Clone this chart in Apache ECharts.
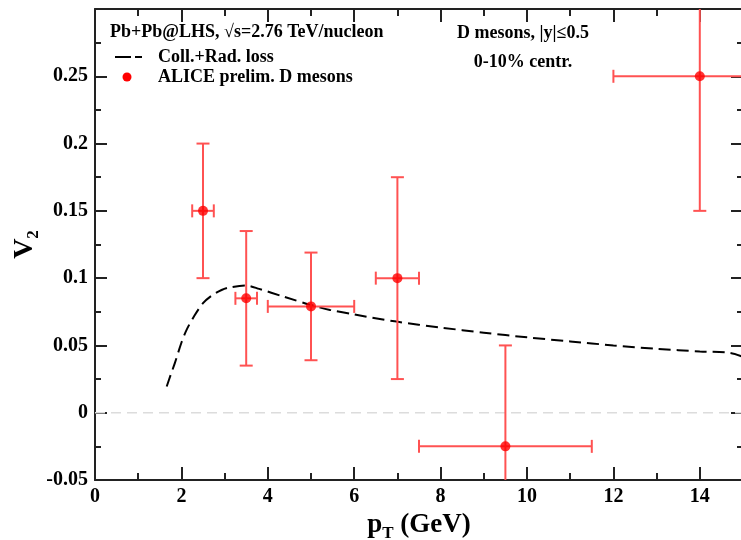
<!DOCTYPE html>
<html>
<head>
<meta charset="utf-8">
<script src="https://cdn.jsdelivr.net/npm/echarts@6/dist/echarts.min.js"></script>
<style>
html,body{margin:0;padding:0;background:#fff;}
#chart{width:741px;height:540px;}
</style>
</head>
<body>
<div id="chart"></div>
<script>
// Theory curve: Coll.+Rad. loss
const curveX = [1.66, 1.75, 1.85, 2.0, 2.12, 2.3, 2.5, 2.7, 2.93, 3.1, 3.5, 3.8, 4.36, 5.0, 5.44, 6.0, 6.98, 8.0, 9.0, 10.0, 11.0, 12.0, 13.0, 14.0, 14.7, 15.0];
const curveY = [0.0195, 0.028, 0.037, 0.052, 0.0616, 0.072, 0.0814, 0.087, 0.0912, 0.093, 0.0945, 0.092, 0.0863, 0.080, 0.0764, 0.073, 0.0677, 0.0633, 0.0595, 0.056, 0.053, 0.050, 0.0475, 0.0455, 0.0445, 0.0415];

// ALICE prelim. D mesons
const ptX  = [2.5, 3.5, 5, 7, 9.5, 14];
const ptY  = [0.15, 0.085, 0.079, 0.1, -0.025, 0.25];
const xErr = [0.25, 0.25, 1, 0.5, 2, 2];
const yErr = [0.05, 0.05, 0.04, 0.075, 0.075, 0.1];

const xTicks = [0, 2, 4, 6, 8, 10, 12, 14];
const yTickLabels = ['-0.05', '0', '0.05', '0.1', '0.15', '0.2', '0.25'];

const FONT = 'Liberation Serif';
const errColor = '#ff5252';

const chart = echarts.init(document.getElementById('chart'));

const axisCommonX = {
  type: 'value', min: 0, max: 15, interval: 2,
  axisLine: { show: true, onZero: false, lineStyle: { color: '#222', width: 2 } },
  axisTick: { show: true, inside: true, length: 13, lineStyle: { color: '#222', width: 2 } },
  minorTick: { show: true, splitNumber: 2, length: 7, lineStyle: { color: '#222', width: 2 } },
  splitLine: { show: false }, minorSplitLine: { show: false }
};
const axisCommonY = {
  type: 'value', min: -0.05, max: 0.3, interval: 0.05,
  axisLine: { show: true, onZero: false, lineStyle: { color: '#222', width: 2 } },
  axisTick: { show: true, inside: true, length: 12, lineStyle: { color: '#222', width: 2 } },
  minorTick: { show: true, splitNumber: 2, length: 6, lineStyle: { color: '#222', width: 2 } },
  splitLine: { show: false }, minorSplitLine: { show: false }
};

function fmtY(v) {
  const idx = Math.round((v + 0.05) / 0.05);
  return yTickLabels[idx] !== undefined ? yTickLabels[idx] : '';
}

const txt = 'bold 18px "Liberation Serif"';

const option = {
  animation: false,
  backgroundColor: '#fff',
  grid: { left: 95, right: -2, top: 9, bottom: 60, containLabel: false, outerBoundsMode: 'none' },
  xAxis: [
    Object.assign({}, axisCommonX, {
      position: 'bottom',
      axisLabel: { show: true, margin: 7, fontFamily: FONT, fontWeight: 'bold', fontSize: 20, color: '#000',
        formatter: v => (xTicks.indexOf(v) >= 0 ? String(v) : ''), showMaxLabel: false },
      name: '{p|p}{t|T}{g| (GeV)}',
      nameLocation: 'middle', nameGap: 27,
      nameTextStyle: {
        rich: {
          p: { fontFamily: FONT, fontWeight: 'bold', fontSize: 27, color: '#000', lineHeight: 30, verticalAlign: 'top' },
          t: { fontFamily: FONT, fontWeight: 'bold', fontSize: 17, color: '#000', lineHeight: 44 },
          g: { fontFamily: FONT, fontWeight: 'bold', fontSize: 27, color: '#000', lineHeight: 30, verticalAlign: 'top' }
        }
      }
    }),
    Object.assign({}, axisCommonX, { position: 'top', axisLabel: { show: false } })
  ],
  yAxis: [
    Object.assign({}, axisCommonY, {
      position: 'left',
      axisLabel: { show: true, margin: 7, fontFamily: FONT, fontWeight: 'bold', fontSize: 20, color: '#000',
        formatter: fmtY, showMaxLabel: false },
      name: '{v|V}{s|2}',
      nameLocation: 'middle', nameRotate: 90, nameGap: 38,
      nameMoveOverlap: false,
      nameTextStyle: {
        rich: {
          v: { fontFamily: FONT, fontWeight: 'bold', fontSize: 28, color: '#000', lineHeight: 30, verticalAlign: 'top' },
          s: { fontFamily: FONT, fontWeight: 'bold', fontSize: 17, color: '#000', lineHeight: 46 }
        }
      }
    }),
    Object.assign({}, axisCommonY, { position: 'right', axisLabel: { show: false } })
  ],
  graphic: [
    { type: 'text', x: 110, y: 32, style: { text: 'Pb+Pb@LHS, \u221As=2.76 TeV/nucleon', font: txt, fill: '#000', verticalAlign: 'middle' } },
    { type: 'line', shape: { x1: 115, y1: 57, x2: 131, y2: 57 }, style: { stroke: '#000', lineWidth: 2 } },
    { type: 'line', shape: { x1: 135, y1: 57, x2: 142, y2: 57 }, style: { stroke: '#000', lineWidth: 2 } },
    { type: 'text', x: 158, y: 57, style: { text: 'Coll.+Rad. loss', font: txt, fill: '#000', verticalAlign: 'middle' } },
    { type: 'circle', shape: { cx: 127, cy: 77, r: 4.5 }, style: { fill: '#ff0000' } },
    { type: 'text', x: 158, y: 77, style: { text: 'ALICE prelim. D mesons', font: txt, fill: '#000', verticalAlign: 'middle' } },
    { type: 'text', x: 523, y: 33, style: { text: 'D mesons, |y|\u22640.5', font: txt, fill: '#000', align: 'center', verticalAlign: 'middle' } },
    { type: 'text', x: 523, y: 62, style: { text: '0-10% centr.', font: txt, fill: '#000', align: 'center', verticalAlign: 'middle' } }
  ],
  series: [
    {
      type: 'line',
      name: 'zero',
      data: [[0, 0], [15, 0]],
      symbol: 'none',
      lineStyle: { color: '#dcdcdc', width: 1.5, type: [10, 6] },
      z: 1, silent: true
    },
    {
      type: 'line',
      name: 'Coll.+Rad. loss',
      data: curveX.map((x, i) => [x, curveY[i]]),
      symbol: 'none',
      smooth: 0.3,
      lineStyle: { color: '#000', width: 2, type: [12, 6] },
      z: 2
    },
    {
      type: 'custom',
      name: 'errors',
      clip: true,
      data: ptX.map((x, i) => [x, ptY[i], xErr[i], yErr[i]]),
      renderItem: function (params, api) {
        const x = api.value(0), y = api.value(1), ex = api.value(2), ey = api.value(3);
        const l = api.coord([x - ex, y]), r = api.coord([x + ex, y]);
        const t = api.coord([x, y + ey]), b = api.coord([x, y - ey]);
        const c = 6.5;
        const st = { stroke: errColor, lineWidth: 2 };
        return {
          type: 'group',
          children: [
            { type: 'line', shape: { x1: l[0], y1: l[1], x2: r[0], y2: r[1] }, style: st },
            { type: 'line', shape: { x1: t[0], y1: t[1], x2: b[0], y2: b[1] }, style: st },
            { type: 'line', shape: { x1: l[0], y1: l[1] - c, x2: l[0], y2: l[1] + c }, style: st },
            { type: 'line', shape: { x1: r[0], y1: r[1] - c, x2: r[0], y2: r[1] + c }, style: st },
            { type: 'line', shape: { x1: t[0] - c, y1: t[1], x2: t[0] + c, y2: t[1] }, style: st },
            { type: 'line', shape: { x1: b[0] - c, y1: b[1], x2: b[0] + c, y2: b[1] }, style: st }
          ]
        };
      },
      z: 3
    },
    {
      type: 'scatter',
      name: 'ALICE prelim. D mesons',
      data: ptX.map((x, i) => [x, ptY[i]]),
      symbol: 'circle',
      symbolSize: 10,
      itemStyle: { color: '#ff0000' },
      z: 4
    }
  ]
};
chart.setOption(option);
</script>
</body>
</html>
